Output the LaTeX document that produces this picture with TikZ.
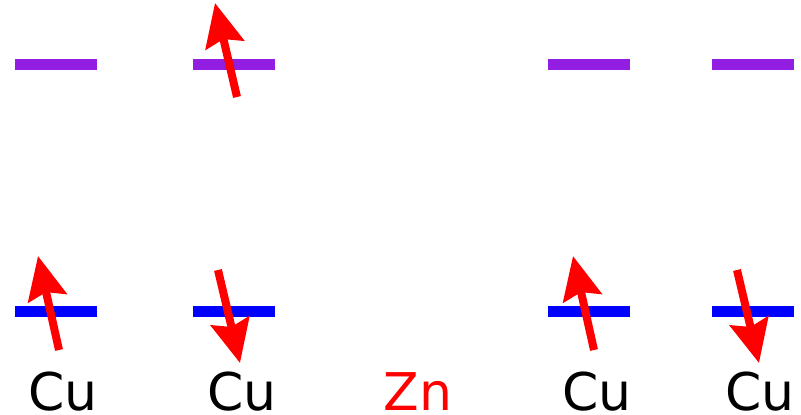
\documentclass[tikz,border=0pt]{standalone}
\usepackage{fontspec}
\setmainfont{DejaVu Sans}
\usetikzlibrary{arrows.meta}
\definecolor{upper}{RGB}{145,30,225}
\definecolor{lower}{RGB}{0,0,255}

\begin{document}
\begin{tikzpicture}[x=1pt, y=-1pt, >={Stealth[length=43pt, width=39pt, inset=6pt]},
    level/.style={line width=11pt},
    spin/.style={->, red, line width=8pt},
    atom/.style={anchor=base, inner sep=0pt, font=\fontsize{52}{60}\selectfont}]
    \useasboundingbox (0,0) rectangle (801,415);
    \foreach \x in {15,193,548,712} {
        \draw[level, upper] (\x,64) -- ++(82,0);
        \draw[level, lower] (\x,311) -- ++(82,0);
    }
    \draw[spin] (237,97) -- (215,3);
    \draw[spin] (59,350) -- (38,256);
    \draw[spin] (218,270) -- (240,363);
    \draw[spin] (594,350) -- (573,256);
    \draw[spin] (737,270) -- (759,363);
    \node[atom] (cu1) at (63,410) {Cu};
    \node[atom] (cu2) at (242,410) {Cu};
    \node[atom, red] (zn) at (418,410) {Zn};
    \node[atom] (cu3) at (597,410) {Cu};
    \node[atom] (cu4) at (760,410) {Cu};
\end{tikzpicture}
\end{document}
